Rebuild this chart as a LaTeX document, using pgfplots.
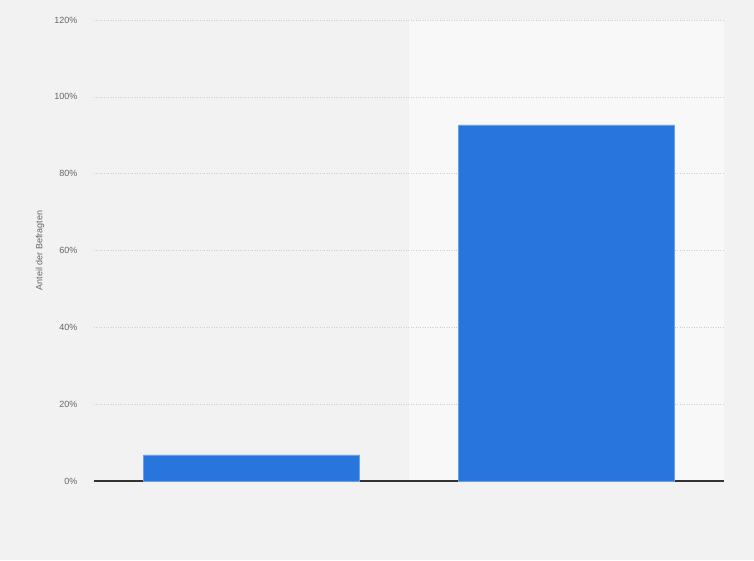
\documentclass[border=0pt]{standalone}
\usepackage{pgfplots}
\pgfplotsset{compat=1.18}
\usepackage{fontspec}
\setmainfont{Liberation Sans}
\definecolor{pagebg}{HTML}{F2F2F2}
\definecolor{bandbg}{HTML}{F8F8F8}
\definecolor{barblue}{HTML}{2876DD}
\definecolor{ticktxt}{HTML}{666666}
\definecolor{gridc}{HTML}{CFCFCF}
\begin{document}
\begin{tikzpicture}[font=\fontsize{9}{10}\selectfont]
% page and the lighter second column band
\fill[pagebg] (0,0) rectangle (754pt,560pt);
\fill[bandbg] (409pt,79pt) rectangle (724pt,540pt);
\begin{axis}[
    at={(94pt,79pt)}, anchor=south west,
    scale only axis,
    width=630pt, height=461pt,
    ybar, bar width=216pt,
    xmin=-0.5, xmax=1.5,
    ymin=0, ymax=120,
    xtick=\empty,
    ytick={0,20,...,120},
    yticklabel={\pgfmathprintnumber{\tick}\%},
    /pgf/number format/assume math mode=true,
    yticklabel style={text=ticktxt, xshift=-13pt},
    ymajorgrids,
    grid style={gridc, dotted, line width=0.6pt},
    major tick length=0pt,
    axis y line*=left,
    axis x line*=bottom,
    y axis line style={draw=none},
    x axis line style={draw=black!80, line width=1.2pt, -},
    ylabel={Anteil der Befragten},
    ylabel style={at={(axis description cs:-0.0857,0.5)}, anchor=center, text=ticktxt},
]
\addplot[fill=barblue, draw=barblue!70!white, line width=0.5pt] coordinates {(0,6.8) (1,92.7)};
\end{axis}
\end{tikzpicture}
\end{document}
